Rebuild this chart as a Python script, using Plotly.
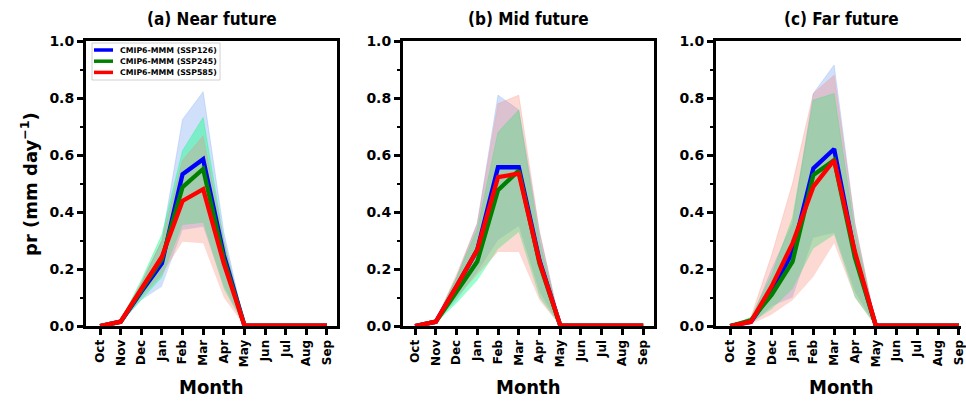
import plotly.graph_objects as go

months = ["Oct", "Nov", "Dec", "Jan", "Feb", "Mar", "Apr", "May", "Jun", "Jul", "Aug", "Sep"]
panel_titles = ["<b>(a) Near future</b>", "<b>(b) Mid future</b>", "<b>(c) Far future</b>"]
scenarios = ["CMIP6-MMM (SSP126)", "CMIP6-MMM (SSP245)", "CMIP6-MMM (SSP585)"]

# Multi-model mean precipitation (mm/day) and model spread, per period
near_126_mean = [0.0, 0.015, 0.12, 0.22, 0.532, 0.585, 0.25, 0.002, 0.001, 0.001, 0.001, 0.001]
near_245_mean = [0.0, 0.015, 0.125, 0.235, 0.487, 0.551, 0.235, 0.002, 0.001, 0.001, 0.001, 0.001]
near_585_mean = [0.0, 0.015, 0.13, 0.243, 0.439, 0.48, 0.22, 0.002, 0.001, 0.001, 0.001, 0.001]
near_126_lo = [0.0, 0.01, 0.09, 0.138, 0.337, 0.348, 0.14, 0.0, 0.0, 0.0, 0.0, 0.0]
near_126_hi = [0.0, 0.02, 0.15, 0.30, 0.725, 0.822, 0.33, 0.004, 0.002, 0.002, 0.002, 0.002]
near_245_lo = [0.0, 0.01, 0.09, 0.17, 0.354, 0.362, 0.13, 0.0, 0.0, 0.0, 0.0, 0.0]
near_245_hi = [0.0, 0.02, 0.16, 0.32, 0.615, 0.732, 0.30, 0.004, 0.002, 0.002, 0.002, 0.002]
near_585_lo = [0.0, 0.01, 0.10, 0.18, 0.296, 0.29, 0.10, 0.0, 0.0, 0.0, 0.0, 0.0]
near_585_hi = [0.0, 0.02, 0.15, 0.30, 0.582, 0.667, 0.30, 0.004, 0.002, 0.002, 0.002, 0.002]

mid_126_mean = [0.0, 0.015, 0.138, 0.267, 0.557, 0.557, 0.23, 0.002, 0.001, 0.001, 0.001, 0.001]
mid_245_mean = [0.0, 0.015, 0.12, 0.226, 0.477, 0.545, 0.22, 0.002, 0.001, 0.001, 0.001, 0.001]
mid_585_mean = [0.0, 0.015, 0.14, 0.267, 0.522, 0.535, 0.225, 0.002, 0.001, 0.001, 0.001, 0.001]
mid_126_lo = [0.0, 0.01, 0.09, 0.19, 0.302, 0.351, 0.12, 0.0, 0.0, 0.0, 0.0, 0.0]
mid_126_hi = [0.0, 0.02, 0.17, 0.36, 0.81, 0.758, 0.33, 0.004, 0.002, 0.002, 0.002, 0.002]
mid_245_lo = [0.0, 0.01, 0.08, 0.16, 0.27, 0.33, 0.10, 0.0, 0.0, 0.0, 0.0, 0.0]
mid_245_hi = [0.0, 0.02, 0.17, 0.34, 0.68, 0.758, 0.30, 0.004, 0.002, 0.002, 0.002, 0.002]
mid_585_lo = [0.0, 0.01, 0.10, 0.18, 0.26, 0.26, 0.09, 0.0, 0.0, 0.0, 0.0, 0.0]
mid_585_hi = [0.0, 0.02, 0.18, 0.36, 0.78, 0.81, 0.33, 0.004, 0.002, 0.002, 0.002, 0.002]

far_126_mean = [0.0, 0.015, 0.12, 0.26, 0.553, 0.621, 0.25, 0.002, 0.001, 0.001, 0.001, 0.001]
far_245_mean = [0.0, 0.02, 0.11, 0.226, 0.53, 0.582, 0.24, 0.002, 0.001, 0.001, 0.001, 0.001]
far_585_mean = [0.0, 0.015, 0.14, 0.29, 0.489, 0.582, 0.26, 0.002, 0.001, 0.001, 0.001, 0.001]
far_126_lo = [0.0, 0.005, 0.07, 0.10, 0.31, 0.327, 0.12, 0.0, 0.0, 0.0, 0.0, 0.0]
far_126_hi = [0.0, 0.02, 0.20, 0.36, 0.816, 0.916, 0.36, 0.004, 0.002, 0.002, 0.002, 0.002]
far_245_lo = [0.0, 0.01, 0.06, 0.13, 0.272, 0.32, 0.10, 0.0, 0.0, 0.0, 0.0, 0.0]
far_245_hi = [0.0, 0.03, 0.18, 0.38, 0.793, 0.816, 0.33, 0.004, 0.002, 0.002, 0.002, 0.002]
far_585_lo = [0.0, 0.005, 0.04, 0.09, 0.173, 0.29, 0.10, 0.0, 0.0, 0.0, 0.0, 0.0]
far_585_hi = [0.0, 0.03, 0.25, 0.50, 0.816, 0.88, 0.36, 0.004, 0.002, 0.002, 0.002, 0.002]

panels = [
    [(near_126_mean, near_126_lo, near_126_hi),
     (near_245_mean, near_245_lo, near_245_hi),
     (near_585_mean, near_585_lo, near_585_hi)],
    [(mid_126_mean, mid_126_lo, mid_126_hi),
     (mid_245_mean, mid_245_lo, mid_245_hi),
     (mid_585_mean, mid_585_lo, mid_585_hi)],
    [(far_126_mean, far_126_lo, far_126_hi),
     (far_245_mean, far_245_lo, far_245_hi),
     (far_585_mean, far_585_lo, far_585_hi)],
]

line_colors = ["#0000ff", "#008000", "#ff0000"]
band_colors = ["rgba(100,149,237,0.30)", "rgba(0,255,127,0.40)", "rgba(250,128,114,0.30)"]

W, H = 966, 403
x_domains = [(86 / W, 337 / W), (403 / W, 654 / W), (716 / W, 961 / W)]
y_domain = (1 - 326 / H, 1 - 41 / H)
x_ranges = [[-0.68, 11.49], [-0.58, 11.52], [-0.68, 11.1]]

condensed = "Liberation Sans Narrow, DejaVu Sans Condensed, Roboto Condensed, Liberation Sans, Arial, sans-serif"

xi = list(range(len(months)))
fig = go.Figure()

for p, series in enumerate(panels):
    xa = "x" if p == 0 else f"x{p + 1}"
    ya = "y" if p == 0 else f"y{p + 1}"
    # spread bands first, then mean lines on top
    for s, (mean, lo, hi) in enumerate(series):
        fig.add_trace(go.Scatter(x=xi, y=lo, mode="lines", line=dict(width=0, color=band_colors[s]),
                                 showlegend=False, hoverinfo="skip", xaxis=xa, yaxis=ya))
        fig.add_trace(go.Scatter(x=xi, y=hi, mode="lines", line=dict(width=0.8, color=band_colors[s]),
                                 fill="tonexty", fillcolor=band_colors[s],
                                 showlegend=False, hoverinfo="skip", xaxis=xa, yaxis=ya))
    for s, (mean, lo, hi) in enumerate(series):
        fig.add_trace(go.Scatter(x=xi, y=mean, mode="lines", line=dict(width=4.3, color=line_colors[s]),
                                 name=scenarios[s], showlegend=False, xaxis=xa, yaxis=ya))

tick_font = dict(family="DejaVu Sans", size=14, color="black")
layout = dict(width=W, height=H, margin=dict(l=0, r=0, t=0, b=0, autoexpand=False),
              paper_bgcolor="white", plot_bgcolor="white", showlegend=False)

for p in range(3):
    xk = "xaxis" if p == 0 else f"xaxis{p + 1}"
    yk = "yaxis" if p == 0 else f"yaxis{p + 1}"
    anchor_y = "y" if p == 0 else f"y{p + 1}"
    anchor_x = "x" if p == 0 else f"x{p + 1}"
    layout[xk] = dict(domain=list(x_domains[p]), anchor=anchor_y, range=x_ranges[p], automargin=False,
                      tickmode="array", tickvals=xi, ticktext=[f"<b>{m}</b>" for m in months],
                      tickangle=-90, tickfont=dict(family="DejaVu Sans", size=12, color="black"),
                      ticks="outside", ticklen=6, tickwidth=2.5, tickcolor="black",
                      showline=True, linewidth=3, linecolor="black", mirror=True,
                      showgrid=False, zeroline=False)
    layout[yk] = dict(domain=list(y_domain), anchor=anchor_x, range=[0, 1], automargin=False,
                      tickmode="array", tickvals=[0, 0.2, 0.4, 0.6, 0.8, 1.0],
                      ticktext=["<b>0.0</b>", "<b>0.2</b>", "<b>0.4</b>", "<b>0.6</b>", "<b>0.8</b>", "<b>1.0</b>"],
                      tickfont=tick_font, ticks="outside", ticklen=6, tickwidth=2.5, tickcolor="black",
                      minor=dict(tickvals=[0.1, 0.3, 0.5, 0.7, 0.9], ticks="outside", ticklen=3,
                                 tickwidth=2, tickcolor="black"),
                      showline=True, linewidth=3, linecolor="black", mirror=(p < 2),
                      showgrid=False, zeroline=False)

annotations = []
title_font = dict(family=condensed, size=17, color="black")
for p in range(3):
    cx = (x_domains[p][0] + x_domains[p][1]) / 2 if p < 2 else (716 + 967) / 2 / W
    annotations.append(dict(text=panel_titles[p], x=cx, y=1 - 19 / H, xref="paper", yref="paper",
                            showarrow=False, font=title_font, xanchor="center", yanchor="middle"))
    annotations.append(dict(text="<b>Month</b>", x=cx, y=1 - 387 / H, xref="paper", yref="paper",
                            showarrow=False, font=dict(family=condensed, size=20, color="black"),
                            xanchor="center", yanchor="middle"))
annotations.append(dict(text="<b>pr (mm day<sup>−1</sup>)</b>", x=29 / W, y=1 - 184 / H,
                        xref="paper", yref="paper", showarrow=False, textangle=-90,
                        font=dict(family="DejaVu Sans", size=18, color="black"),
                        xanchor="center", yanchor="middle"))

# legend box drawn inside the first panel
shapes = [dict(type="rect", xref="paper", yref="paper", x0=92 / W, x1=220 / W,
               y0=1 - 80 / H, y1=1 - 43 / H, line=dict(color="#d0d0d0", width=1),
               fillcolor="rgba(255,255,255,0.8)", layer="above")]
for s, name in enumerate(scenarios):
    yy = 1 - (50 + s * 11.2) / H
    shapes.append(dict(type="line", xref="paper", yref="paper", x0=94 / W, x1=113 / W,
                       y0=yy, y1=yy, line=dict(color=line_colors[s], width=3.5), layer="above"))
    annotations.append(dict(text=f"<b>{name}</b>", x=118 / W, y=yy, xref="paper", yref="paper",
                            showarrow=False, xanchor="left", yanchor="middle",
                            font=dict(family="DejaVu Sans", size=7.8, color="black")))

layout["annotations"] = annotations
layout["shapes"] = shapes
fig.update_layout(**layout)

fig.write_html("out.html")
